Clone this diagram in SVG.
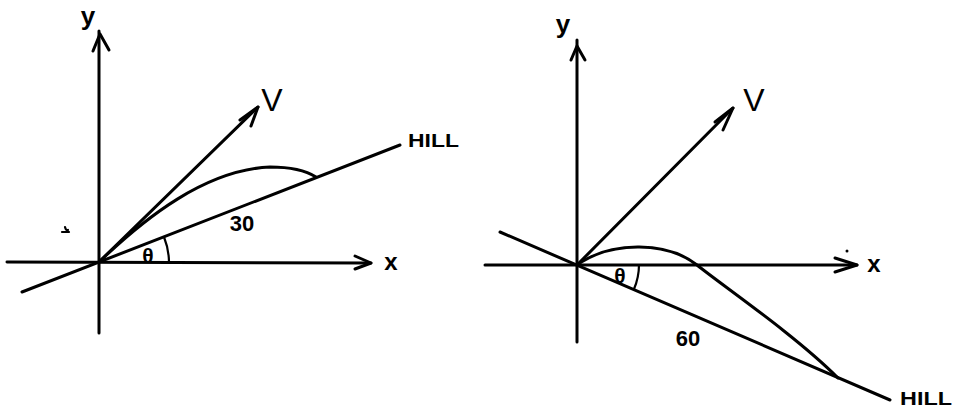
<svg xmlns="http://www.w3.org/2000/svg" width="957" height="409" viewBox="0 0 957 409">
<style>
.ln{fill:none;stroke:#000;stroke-width:3;stroke-linecap:round;stroke-linejoin:round}
.th{fill:none;stroke:#000;stroke-width:2.2;stroke-linecap:round}
.t{font-family:"Liberation Sans",Arial,sans-serif;fill:#000}
.b{font-weight:bold}
</style>
<rect width="957" height="409" fill="#fff"/>
<g id="left">
  <g id="left-axes" class="connectors">
    <path class="ln" d="M99,31 L99,333"/>
    <path class="ln" d="M93,51 L100,34 L109,50"/>
    <path class="ln" d="M7,262 L371,263"/>
    <path class="ln" d="M355,256 L371,263 L355,269"/>
    <path class="ln" d="M99,262 L258,107"/>
    <path class="ln" d="M240,120 L258,107 L251,126"/>
    <path class="ln" d="M22,292 L400,145"/>
    <path class="ln" d="M99,262 C145,218 205,170 270,167 C290,167 305,170 316,177"/>
    <path class="th" d="M169,262 A70,70 0 0 0 164,237"/>
    <path class="th" d="M65,227 q1,4 3,3 M62,232 l7,0"/>
  </g>
  <g id="left-labels">
    <text class="t b" x="88" y="25" font-size="26" text-anchor="middle">y</text>
    <text class="t b" x="391" y="270" font-size="24" text-anchor="middle">x</text>
    <text class="t" x="272" y="111" font-size="32" text-anchor="middle">V</text>
    <text class="t b" x="408" y="147" font-size="19" textLength="51" lengthAdjust="spacingAndGlyphs">HILL</text>
    <text class="t b" x="242" y="231" font-size="22" text-anchor="middle">30</text>
    <text class="t b" x="148" y="263" font-size="21" text-anchor="middle">θ</text>
  </g>
</g>
<g id="right">
  <g id="right-axes" class="connectors">
    <path class="ln" d="M577,40 L577,342"/>
    <path class="ln" d="M571,60 L577,46 L585,60"/>
    <path class="ln" d="M485,265 L857,265"/>
    <path class="ln" d="M835,258 L857,265 L835,272"/>
    <path class="ln" d="M577,265 L733,108"/>
    <path class="ln" d="M715,122 L733,108 L723,130"/>
    <path class="ln" d="M500,232 L890,400"/>
    <path class="ln" d="M577,265 C612,240 668,242 697,265 C723,286 795,335 838,378"/>
    <path class="th" d="M639,265 A62,62 0 0 1 634,289"/>
    <circle cx="847" cy="251" r="1.5" fill="#000"/>
  </g>
  <g id="right-labels">
    <text class="t b" x="563" y="33" font-size="26" text-anchor="middle">y</text>
    <text class="t b" x="874" y="272" font-size="24" text-anchor="middle">x</text>
    <text class="t" x="754" y="111" font-size="32" text-anchor="middle">V</text>
    <text class="t b" x="900" y="405" font-size="18" textLength="52" lengthAdjust="spacingAndGlyphs">HILL</text>
    <text class="t b" x="688" y="346" font-size="22" text-anchor="middle">60</text>
    <text class="t b" x="620" y="283" font-size="21" text-anchor="middle">θ</text>
  </g>
</g>
</svg>
